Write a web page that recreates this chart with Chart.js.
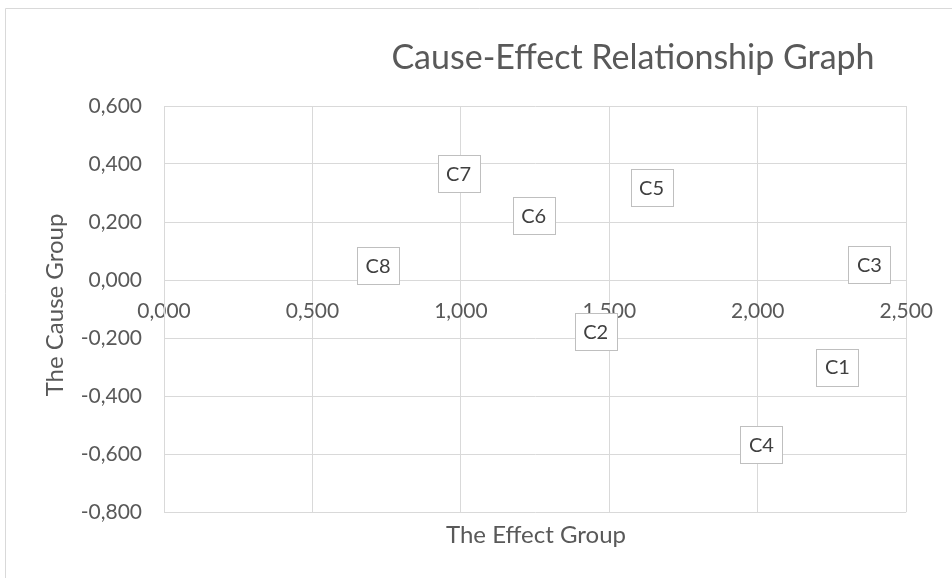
<!DOCTYPE html>
<html>
<head>
<meta charset="utf-8">
<script src="https://cdn.jsdelivr.net/npm/chart.js@4"></script>
<style>
  html, body { margin: 0; padding: 0; background: #fff; }
  #wrap { width: 952px; height: 578px; }
</style>
</head>
<body>
<div id="wrap"><canvas id="grafik" width="952" height="578"></canvas></div>
<script>
const kriteria = ["C1", "C2", "C3", "C4", "C5", "C6", "C7", "C8"];
const effectGroup = [2.268, 1.454, 2.376, 2.012, 1.642, 1.245, 0.992, 0.721];
const causeGroup = [-0.300, -0.178, 0.053, -0.567, 0.320, 0.221, 0.368, 0.049];

const judulGrafik = "Cause-Effect Relationship Graph";
const judulX = "The Effect Group";
const judulY = "The Cause Group";

const FONT = "Lato, 'Open Sans', sans-serif";
const warnaTeks = "#595959";
const warnaGrid = "#d9d9d9";

const angkaKoma = v => (Math.abs(v) < 1e-9 ? 0 : v).toFixed(3).replace(".", ",");

// label kotak di tiap titik + judul
const labelPlugin = {
  id: "labelKotak",
  afterDatasetsDraw(chart) {
    const { ctx } = chart;
    const meta = chart.getDatasetMeta(0);
    ctx.save();
    ctx.font = "20px " + FONT;
    ctx.textAlign = "center";
    ctx.textBaseline = "middle";
    meta.data.forEach((pt, i) => {
      const w = 42, h = 37;
      const x = Math.round(pt.x - w / 2) + 0.5;
      const y = Math.round(pt.y - h / 2) + 0.5;
      ctx.fillStyle = "#fff";
      ctx.fillRect(x, y, w, h);
      ctx.strokeStyle = "#bfbfbf";
      ctx.lineWidth = 1;
      ctx.strokeRect(x, y, w, h);
      ctx.fillStyle = "#404040";
      ctx.fillText(kriteria[i], pt.x, pt.y + 1);
    });
    ctx.restore();
  },
  afterDraw(chart) {
    const { ctx, chartArea } = chart;
    ctx.save();
    // bingkai luar
    ctx.strokeStyle = warnaGrid;
    ctx.lineWidth = 1;
    ctx.beginPath();
    ctx.moveTo(5.5, 600);
    ctx.lineTo(5.5, 8.5);
    ctx.lineTo(960, 8.5);
    ctx.stroke();

    ctx.fillStyle = warnaTeks;
    ctx.textAlign = "center";
    ctx.textBaseline = "middle";
    ctx.font = "34px " + FONT;
    ctx.fillText(judulGrafik, 633, 58);

    ctx.font = "24px " + FONT;
    ctx.fillText(judulX, 536, 535);

    ctx.translate(55, 305);
    ctx.rotate(-Math.PI / 2);
    ctx.fillText(judulY, 0, 0);
    ctx.restore();
  },
};

new Chart(document.getElementById("grafik"), {
  type: "scatter",
  data: {
    datasets: [
      {
        data: effectGroup.map((x, i) => ({ x, y: causeGroup[i] })),
        pointRadius: 0,
        pointHoverRadius: 0,
      },
    ],
  },
  options: {
    responsive: false,
    animation: false,
    events: [],
    layout: { padding: { top: 106, bottom: 66, right: 45, left: 0 } },
    plugins: {
      legend: { display: false },
      tooltip: { enabled: false },
    },
    scales: {
      x: {
        type: "linear",
        position: { y: 0 },
        min: 0,
        max: 2.5,
        ticks: {
          stepSize: 0.5,
          padding: 19,
          color: warnaTeks,
          font: { family: FONT, size: 21 },
          callback: v => angkaKoma(v),
        },
        grid: { color: warnaGrid, drawTicks: false },
        border: { color: warnaGrid },
      },
      y: {
        type: "linear",
        min: -0.8,
        max: 0.6,
        afterFit: s => { s.width = 164; },
        ticks: {
          stepSize: 0.2,
          padding: 22,
          color: warnaTeks,
          font: { family: FONT, size: 21 },
          callback: v => angkaKoma(v),
        },
        grid: { color: warnaGrid, drawTicks: false },
        border: { color: warnaGrid },
      },
    },
  },
  plugins: [labelPlugin],
});
</script>
</body>
</html>
